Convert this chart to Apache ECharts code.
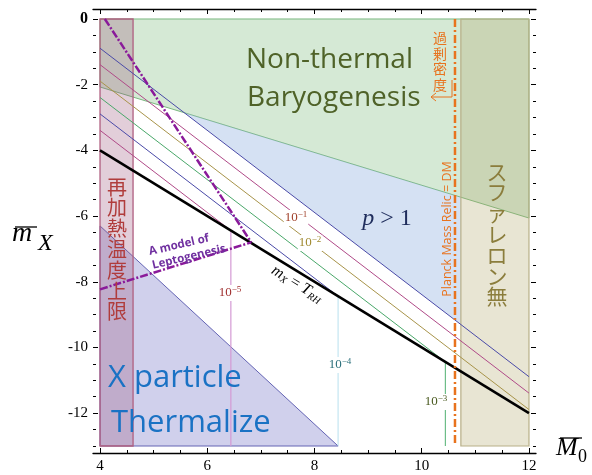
<!DOCTYPE html>
<html><head><meta charset="utf-8">
<script src="https://cdn.jsdelivr.net/npm/echarts@6/dist/echarts.min.js"></script>
<style>html,body{margin:0;padding:0;background:#fff}#c{width:592px;height:475px}</style>
</head><body><div id="c"></div>
<script>
// ---------- axis ticks ----------
const xMajorTicks = [4, 6, 8, 10, 12];
const xMinorTicks = [4,4.5,5,5.5,6,6.5,7,7.5,8,8.5,9,9.5,10,10.5,11,11.5,12];
const yMajorTicks = [0, -2, -4, -6, -8, -10, -12];
const yMinorTicks = [0,-0.5,-1,-1.5,-2,-2.5,-3,-3.5,-4,-4.5,-5,-5.5,-6,-6.5,-7,-7.5,-8,-8.5,-9,-9.5,-10,-10.5,-11,-11.5,-12,-12.5,-13];

// ---------- regions (M0, mX) ----------
const nonThermalRegion = [[4,0],[12,0],[12,-6.06],[4,-2.07]];
const pGreaterOneRegion = [[5.57,-2.85],[10.73,-5.43],[10.73,-9.30]];
const sphaleronBand = [[10.73,0],[12,0],[12,-13],[10.73,-13]];
const thermalizeTriangle = [[4,-6.30],[8.44,-13],[4,-13]];
const reheatBand = [[4,0],[4.616,0],[4.616,-13],[4,-13]];

// ---------- contour lines ----------
const contour1 = [[4,-0.89],[12,-10.89]];
const contour1e1 = [[4,-1.39],[12,-11.39]];
const contour1e2 = [[4,-1.89],[12,-11.89]];
const contour1e3 = [[4,-2.39],[10.44,-10.44]];
const contour1e3v = [[10.44,-10.44],[10.44,-13]];
const contour1e4 = [[4,-2.89],[8.44,-8.44]];
const contour1e4v = [[8.44,-8.44],[8.44,-13]];
const contour1e5 = [[4,-3.39],[6.44,-6.44]];
const contour1e5v = [[6.44,-6.44],[6.44,-13]];
const mxEqualsTrh = [[4,-4],[12,-12]];
const leptoSteep = [[4.09,0],[6.82,-6.80]];
const leptoShallow = [[4,-8.23],[6.82,-6.80]];
const planckRelic = [[10.62,0],[10.62,-13]];

const SERIF = "'Liberation Serif','DejaVu Serif',serif";
const SANS = "'Open Sans','Noto Sans',sans-serif";
const CJK = "'Noto Sans CJK JP','Noto Sans CJK SC',sans-serif";

const xMin = 3.869, xMax = 12.131, yMin = -13.213, yMax = 0.304;

function poly(pts, fill, stroke, lw) {
  return {
    type: 'custom', coordinateSystem: 'cartesian2d', silent: true, animation: false,
    data: [pts[0]], clip: false,
    renderItem: (params, api) => ({
      type: 'polygon',
      shape: { points: pts.map(p => api.coord(p)) },
      style: { fill: fill, stroke: stroke || null, lineWidth: lw || 0 }
    })
  };
}
function line(pts, color, width, type) {
  return { type: 'line', data: pts, symbol: 'none', silent: true, animation: false,
    lineStyle: { color: color, width: width, type: type || 'solid' } };
}
function xAx(pos, ticks, len, labels, showLine) {
  return { type: 'value', min: xMin, max: xMax, position: pos,
    axisLine: { show: !!showLine, onZero: false, lineStyle: { color: '#000', width: 1.3 } },
    axisTick: { show: true, inside: true, length: len, customValues: ticks, lineStyle: { color: '#000', width: 1 } },
    axisLabel: labels ? { show: true, customValues: labels, fontFamily: SERIF, fontSize: 15, color: '#000', margin: 6 } : { show: false },
    splitLine: { show: false } };
}
function yAx(pos, ticks, len, labels) {
  return { type: 'value', min: yMin, max: yMax, position: pos,
    axisLine: { show: false, onZero: false },
    axisTick: { show: true, inside: true, length: len, customValues: ticks, lineStyle: { color: '#000', width: 1 } },
    axisLabel: labels ? { show: true, customValues: labels, fontFamily: SERIF, fontSize: 15, color: '#000', margin: 5,
      formatter: v => (v === 0 ? '{b|0}' : '-' + Math.abs(v)),
      rich: { b: { fontFamily: SERIF, fontSize: 16, fontWeight: 'bold', color: '#000' } } } : { show: false },
    splitLine: { show: false } };
}

function txt(x, y, text, font, fill, opts) {
  opts = opts || {};
  return Object.assign({ type: 'text', x: x, y: y, silent: true, z: 100,
    style: Object.assign({ text: text, font: font, fill: fill,
      align: opts.align || 'center', verticalAlign: 'middle',
      textAlign: opts.align || 'center', textVerticalAlign: 'middle' }, opts.style || {}) },
    opts.rotation !== undefined ? { rotation: opts.rotation } : {});
}
function contourLabel(x, y, exp, color) {
  return { type: 'text', x: x, y: y, silent: true, z: 100,
    style: { text: '{a|10}{b|−' + exp + '}', align: 'center', verticalAlign: 'middle',
      textAlign: 'center', textVerticalAlign: 'middle',
      backgroundColor: '#fff', padding: [0, 1, 0, 1],
      rich: { a: { fontFamily: SERIF, fontSize: 13, lineHeight: 16, fill: color, color: color },
              b: { fontFamily: SERIF, fontSize: 9, lineHeight: 10, verticalAlign: 'top', fill: color, color: color } } } };
}

const chart = echarts.init(document.getElementById('c'), null, { renderer: 'canvas' });
const orange = '#e8731e';
chart.setOption({
  animation: false,
  backgroundColor: '#fff',
  grid: { left: 93, right: 56, top: 9, bottom: 22 },
  xAxis: [xAx('bottom', xMajorTicks, 5, xMajorTicks, true), xAx('bottom', xMinorTicks, 3, null, false),
          xAx('top', xMajorTicks, 5, null, true), xAx('top', xMinorTicks, 3, null, false)],
  yAxis: [yAx('left', yMajorTicks, 5, yMajorTicks), yAx('left', yMinorTicks, 3, null),
          yAx('right', yMajorTicks, 5, null), yAx('right', yMinorTicks, 3, null)],
  series: [
    poly(nonThermalRegion, 'rgba(150,200,150,0.40)', '#7ab87f', 1),
    poly(pGreaterOneRegion, 'rgba(150,180,225,0.40)', null, 0),
    poly(sphaleronBand, 'rgba(180,170,110,0.30)', '#b8b088', 1.2),
    poly(thermalizeTriangle, 'rgba(120,120,200,0.35)', '#6464b4', 1),
    poly(reheatBand, 'rgba(150,80,120,0.28)', '#b06080', 1.3),
    line(contour1, '#4a4aa8', 1),
    line(contour1e1, '#b04a88', 1),
    line(contour1e2, '#a8944a', 1),
    line(contour1e3, '#4aa86a', 1),
    line(contour1e3v, '#50b070', 1),
    line(contour1e4, '#4a4aa8', 1),
    line(contour1e4v, '#b8e0ee', 1),
    line(contour1e5, '#b04a88', 1),
    line(contour1e5v, '#d49ad4', 1.2),
    line(mxEqualsTrh, '#000', 2.5),
    line(leptoSteep, '#8a1a9a', 2.5, [8, 2, 2, 2]),
    line(leptoShallow, '#8a1a9a', 2.5, [8, 2, 2, 2]),
    line(planckRelic, orange, 2.5, [8, 3, 2, 3])
  ],
  graphic: [
    txt(246, 60, 'Non-thermal', "28px " + SANS, '#4f6228', { align: 'left' }),
    txt(247, 98, 'Baryogenesis', "28px " + SANS, '#4f6228', { align: 'left' }),
    txt(108, 378, 'X particle', "31px " + SANS, '#1a72c4', { align: 'left' }),
    txt(111, 423, 'Thermalize', "31px " + SANS, '#1a72c4', { align: 'left' }),
    { type: 'text', x: 387, y: 219, silent: true, z: 100,
      style: { text: '{i|p}{n| > 1}', align: 'center', verticalAlign: 'middle', textAlign: 'center', textVerticalAlign: 'middle',
        rich: { i: { fontFamily: SERIF, fontStyle: 'italic', fontSize: 24, color: '#1f2d5c', fill: '#1f2d5c' },
                n: { fontFamily: SERIF, fontSize: 24, color: '#1f2d5c', fill: '#1f2d5c' } } } },
    contourLabel(296, 218, '1', '#a0402a'),
    contourLabel(310, 243, '2', '#a08a30'),
    contourLabel(230, 293, '5', '#a03030'),
    contourLabel(340, 365, '4', '#2a6f7a'),
    contourLabel(436, 402, '3', '#4a5a20'),
    { type: 'text', x: 297, y: 284, rotation: -0.55, silent: true, z: 100,
      style: { text: '{i|m}{s|X}{n| = }{i|T}{s|RH}', align: 'center', verticalAlign: 'middle', textAlign: 'center', textVerticalAlign: 'middle',
        rich: { i: { fontFamily: SERIF, fontStyle: 'italic', fontSize: 16, lineHeight: 18, color: '#000', fill: '#000' },
                s: { fontFamily: SERIF, fontStyle: 'italic', fontSize: 10, lineHeight: 11, verticalAlign: 'bottom', color: '#000', fill: '#000' },
                n: { fontFamily: SERIF, fontSize: 16, lineHeight: 18, color: '#000', fill: '#000' } } } },
    txt(179, 245, 'A model of', "bold 11.5px " + SANS, '#7030a0', { rotation: 0.227 }),
    txt(189, 257, 'Leptogenesis', "bold 11.5px " + SANS, '#7030a0', { rotation: 0.227 }),
    txt(117, 249.5, '再\n加\n熱\n温\n度\n上\n限', "20px " + CJK, '#b03c3c', { style: { lineHeight: 20.8 } }),
    txt(497, 234, 'ス\nフ\nァ\nレ\nロ\nン\n無', "21px " + CJK, '#8b7d3c', { style: { lineHeight: 20.8 } }),
    txt(447, 229, 'Planck Mass Relic = DM', "12.5px " + SANS, orange, { rotation: Math.PI / 2 }),
    txt(440, 61, '過\n剰\n密\n度', "14px " + CJK, orange, { style: { lineHeight: 15.5 } }),
    { type: 'polyline', silent: true, z: 100, shape: { points: [[452, 80], [452, 97], [431, 97]] }, style: { stroke: orange, lineWidth: 1, fill: null } },
    { type: 'polyline', silent: true, z: 100, shape: { points: [[436, 93], [431, 97], [436, 101]] }, style: { stroke: orange, lineWidth: 1, fill: null } },
    txt(12, 233.5, 'm', "italic 28px " + SERIF, '#000', { align: 'left' }),
    { type: 'line', silent: true, z: 100, shape: { x1: 15, y1: 227, x2: 37, y2: 227 }, style: { stroke: '#000', lineWidth: 1.3 } },
    txt(38, 244, 'X', "italic 24px " + SERIF, '#000', { align: 'left' }),
    txt(556, 448, 'M', "italic 26px " + SERIF, '#000', { align: 'left' }),
    { type: 'line', silent: true, z: 100, shape: { x1: 560, y1: 438, x2: 582, y2: 438 }, style: { stroke: '#000', lineWidth: 1.3 } },
    txt(578, 457, '0', "18px " + SERIF, '#000', { align: 'left' })
  ]
});
</script></body></html>
